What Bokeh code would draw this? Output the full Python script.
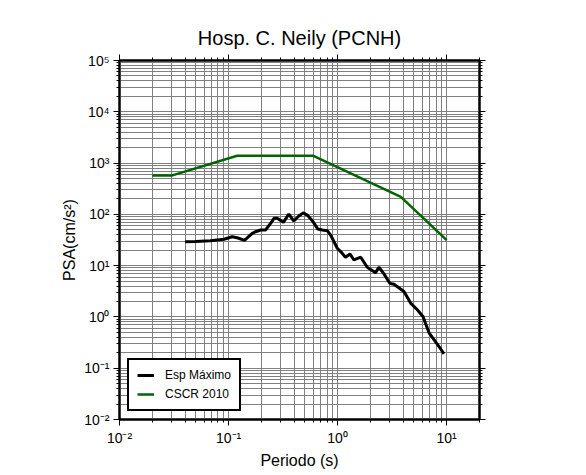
from bokeh.plotting import figure
from bokeh.models import LogAxis, FixedTicker, CustomJSTickFormatter, Legend, LegendItem
from bokeh.embed import file_html
from bokeh.resources import INLINE

# ---- data ----
esp_T = [0.040, 0.050, 0.068, 0.091, 0.108, 0.122, 0.140, 0.165, 0.177, 0.197,
         0.218, 0.243, 0.261, 0.279, 0.318, 0.357, 0.397, 0.441, 0.484, 0.527,
         0.586, 0.659, 0.724, 0.804, 0.863, 0.993, 1.10, 1.18, 1.30, 1.41,
         1.63, 1.87, 2.23, 2.39, 2.66, 3.02, 3.29, 4.06, 4.67, 5.38,
         6.06, 6.89, 7.65, 8.81, 9.45]
esp_A = [29.3, 29.6, 30.6, 32.7, 36.6, 34.6, 31.2, 42.7, 45.9, 49.5,
         49.5, 66.8, 83.5, 84.0, 69.8, 101.0, 74.1, 92.7, 107.0, 96.8,
         75.2, 51.7, 49.5, 48.1, 39.5, 21.8, 17.5, 14.6, 16.9, 12.9,
         14.6, 9.3, 7.3, 9.3, 6.9, 4.5, 4.35, 3.13, 1.86, 1.38,
         1.02, 0.49, 0.36, 0.237, 0.19]

cscr_T = [0.02, 0.03, 0.12, 0.6, 3.8, 10.0]
cscr_A = [570, 570, 1385, 1385, 219, 31.5]

x_major = [0.01, 0.1, 1, 10]
y_major = [1e-2, 1e-1, 1e0, 1e1, 1e2, 1e3, 1e4, 1e5]

def minors(majors, hi):
    out = []
    for m in majors:
        for k in range(2, 10):
            v = m * k
            if v <= hi:
                out.append(v)
    return out

x_minor = minors(x_major, 20)
y_minor = minors(y_major[:-1], 1e5)

FONT = "Liberation Sans"

p = figure(width=578, height=471, x_axis_type="log", y_axis_type="log",
           x_range=(0.01, 20), y_range=(0.01, 1e5),
           output_backend="svg", toolbar_location=None,
           min_border_left=119, min_border_right=99,
           min_border_top=60, min_border_bottom=47)

p.title.text = "Hosp. C. Neily (PCNH)"
p.title.align = "center"
p.title.text_font = FONT
p.title.text_font_size = "20px"
p.title.text_font_style = "normal"
p.title.text_color = "black"
p.title.standoff = 12

sup_fmt = CustomJSTickFormatter(code="""
const sup = {'-':'\u207b','0':'\u2070','1':'\u00b9','2':'\u00b2','3':'\u00b3','4':'\u2074','5':'\u2075','6':'\u2076','7':'\u2077','8':'\u2078','9':'\u2079'};
const e = Math.round(Math.log10(tick));
return '10' + String(e).split('').map(c => sup[c]).join('');
""")

xt = FixedTicker(ticks=x_major, minor_ticks=x_minor)
yt = FixedTicker(ticks=y_major, minor_ticks=y_minor)

def style_axis(ax, ticker, labels=True):
    ax.ticker = ticker
    ax.axis_line_width = 2
    ax.axis_line_color = "black"
    ax.major_tick_line_color = "black"
    ax.minor_tick_line_color = "black"
    ax.major_tick_line_width = 1
    ax.major_tick_out = 6
    ax.major_tick_in = 0
    ax.minor_tick_out = 3
    ax.minor_tick_in = 0
    if labels:
        ax.formatter = sup_fmt
        ax.major_label_text_font = FONT
        ax.major_label_text_font_size = "14px"
        ax.major_label_text_color = "black"
        ax.major_label_standoff = 4
        ax.axis_label_text_font = FONT
        ax.axis_label_text_font_size = "16px"
        ax.axis_label_text_font_style = "normal"
        ax.axis_label_text_color = "black"
        ax.axis_label_standoff = 3
    else:
        ax.major_label_text_font_size = "0px"
        ax.major_label_text_color = None

style_axis(p.xaxis[0], xt)
style_axis(p.yaxis[0], yt)
p.xaxis[0].axis_label = "Periodo (s)"
p.yaxis[0].axis_label = "PSA(cm/s\u00b2)"

top = LogAxis()
style_axis(top, FixedTicker(ticks=x_major, minor_ticks=x_minor), labels=False)
p.add_layout(top, "above")
right = LogAxis()
style_axis(right, FixedTicker(ticks=y_major, minor_ticks=y_minor), labels=False)
p.add_layout(right, "right")

for g in (p.xgrid[0], p.ygrid[0]):
    g.grid_line_color = "#808080"
    g.grid_line_width = 1
    g.grid_line_alpha = 1
    g.minor_grid_line_color = "#808080"
    g.minor_grid_line_width = 1
    g.minor_grid_line_alpha = 1

p.outline_line_color = "black"
p.outline_line_width = 2
p.outline_line_alpha = 1
p.border_fill_color = "white"
p.background_fill_color = "white"

r1 = p.line(esp_T, esp_A, line_color="black", line_width=3)
r2 = p.line(cscr_T, cscr_A, line_color="#006400", line_width=2.5)

legend = Legend(items=[LegendItem(label="Esp Máximo", renderers=[r1]),
                       LegendItem(label="CSCR 2010", renderers=[r2])],
                location="bottom_left", margin=8, padding=8, spacing=5,
                label_text_font=FONT, label_text_font_size="12px",
                label_text_color="black",
                label_height=14, glyph_height=14, glyph_width=17,
                label_standoff=11,
                border_line_color="black", border_line_width=2,
                border_line_alpha=1.0,
                background_fill_alpha=1.0)
p.add_layout(legend)

open("out.html", "w").write(file_html(p, INLINE))
